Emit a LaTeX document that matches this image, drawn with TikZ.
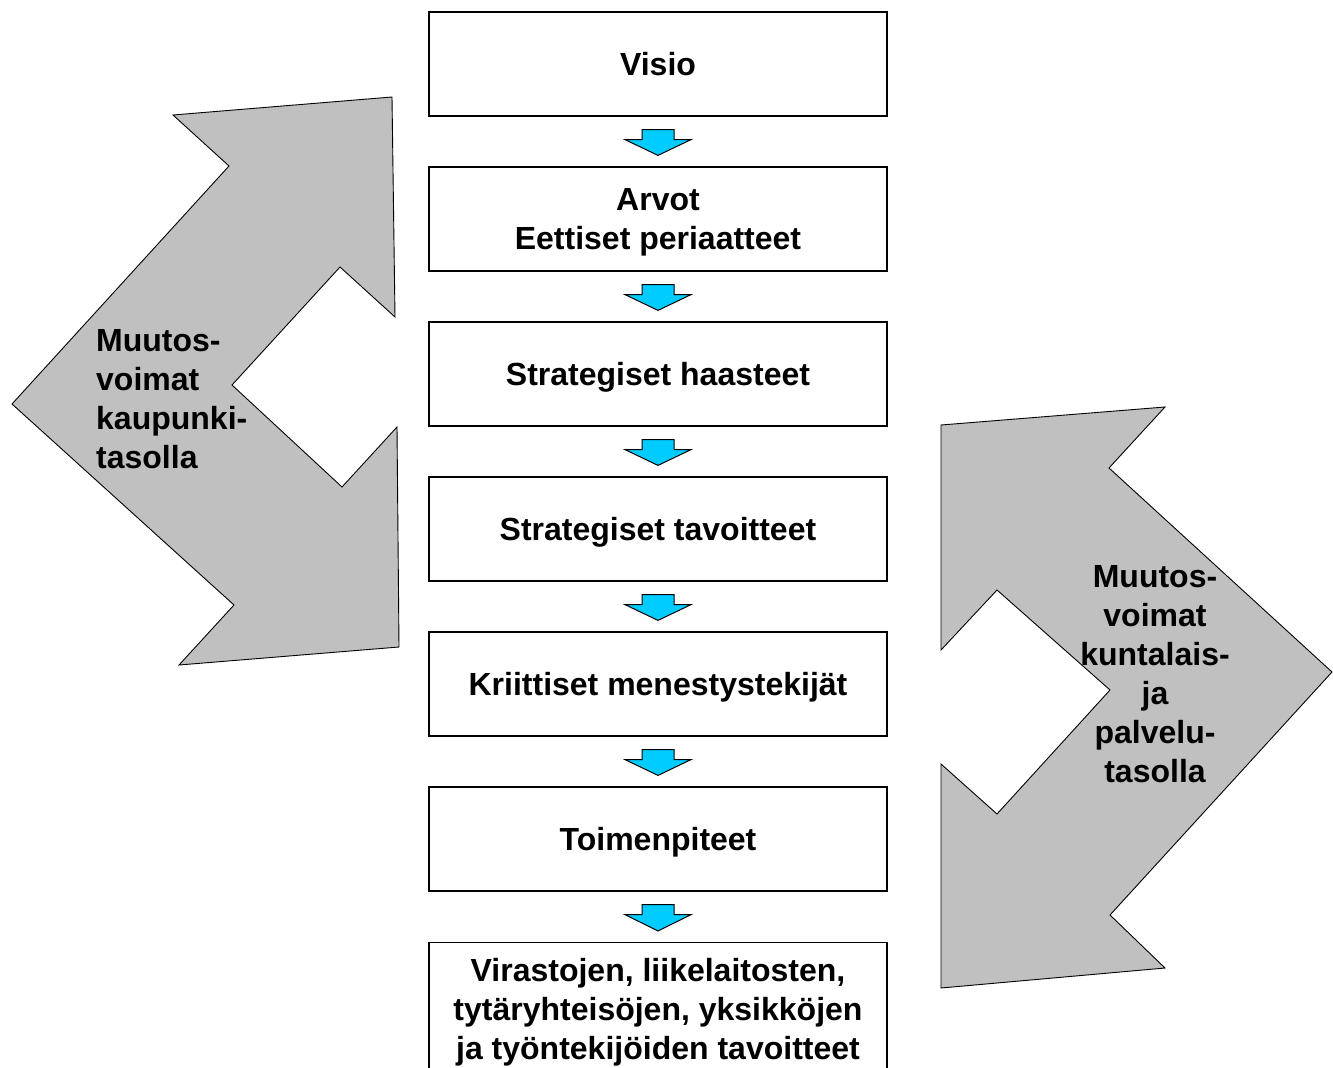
\documentclass[tikz,border=0pt]{standalone}
\usepackage{fontspec}
\setmainfont{Liberation Sans}
\usetikzlibrary{calc}
\definecolor{arrowgray}{RGB}{192,192,192}
\definecolor{flowblue}{RGB}{0,204,255}
\begin{document}
\begin{tikzpicture}[x=1pt,y=-1pt,
  box/.style={draw=black, line width=1.2pt, fill=white, minimum width=458pt, minimum height=104pt, inner sep=0pt, align=center, text depth=0pt, font=\fontsize{32}{39}\selectfont\bfseries},
  oneline/.style={text height=23pt},
  forceshape/.style={fill=arrowgray, draw=black, line width=0.9pt, line join=miter},
  flow/.style={fill=flowblue, draw=black, line width=1pt, line join=miter},
  lbl/.style={font=\fontsize{32}{39}\selectfont\bfseries, inner sep=0pt, text depth=0pt}]
\useasboundingbox (0,0) rectangle (1333,1068);
\clip (0,0) rectangle (1333,1068);

% left force arrow
\draw[forceshape] (173,115) -- (392,97) -- (395,317) -- (340,267) -- (232,385) -- (342,487) -- (397,427) -- (399,647) -- (179,665) -- (234,605) -- (12,404) -- (229,166) -- cycle;
% right force arrow
\draw[forceshape] (941,425) -- (1165,407) -- (1109,468) -- (1332,672) -- (1110,915) -- (1165,968) -- (941,988) -- (941,764) -- (997,814) -- (1110,690) -- (997,590) -- (941,650) -- cycle;

\node[lbl, align=left, anchor=west] (lt) at (96,399) {Muutos-\\voimat\\kaupunki-\\tasolla};
\node[lbl, align=center] (rt) at (1155,674) {Muutos-\\voimat\\kuntalais-\\ja\\palvelu-\\tasolla};

\node[box, oneline] (b1) at (658,64) {Visio};
\node[box] (b2) at (658,219) {Arvot\\Eettiset periaatteet};
\node[box, oneline] (b3) at (658,374) {Strategiset haasteet};
\node[box, oneline] (b4) at (658,529) {Strategiset tavoitteet};
\node[box, oneline] (b5) at (658,684) {Kriittiset menestystekijät};
\node[box, oneline] (b6) at (658,839) {Toimenpiteet};
\node[box, minimum height=132pt, anchor=north] (b7) at (658,942) {Virastojen, liikelaitosten,\\tytäryhteisöjen, yksikköjen\\ja työntekijöiden tavoitteet};

\foreach \a/\b in {b1/b2,b2/b3,b3/b4,b4/b5,b5/b6,b6/b7}{
  \draw[flow] ($(\a.south)+(-16,13)$) -- ($(\a.south)+(16,13)$) -- ($(\a.south)+(16,23)$) -- ($(\a.south)+(33,23)$) -- ($(\b.north)+(0,-11)$) -- ($(\a.south)+(-33,23)$) -- ($(\a.south)+(-16,23)$) -- cycle;
}
\end{tikzpicture}
\end{document}
